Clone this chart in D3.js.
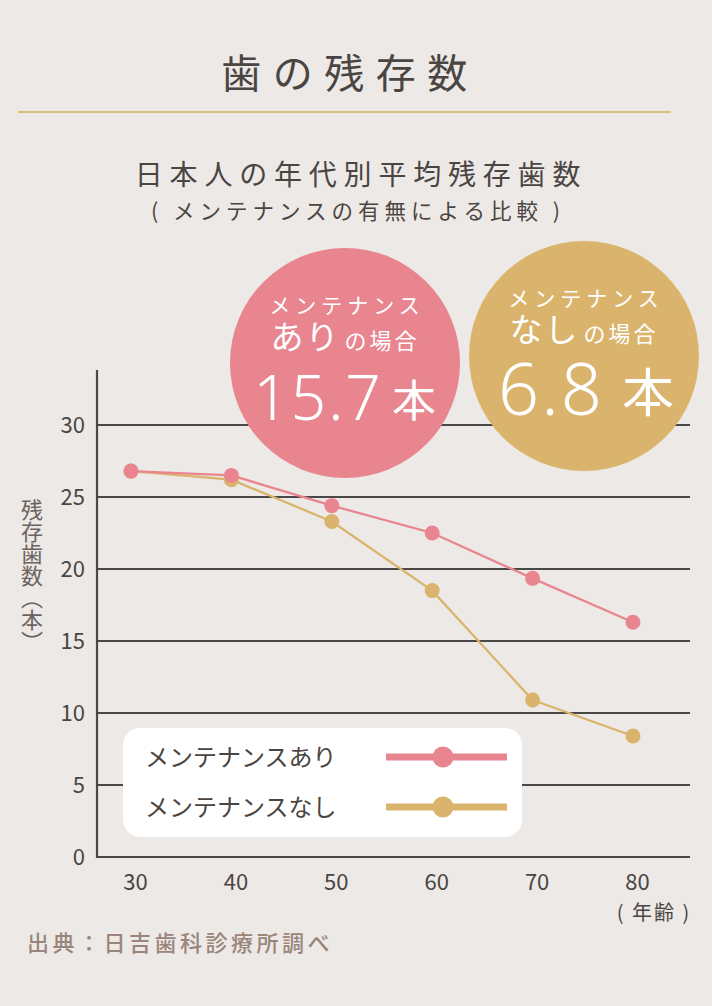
<!DOCTYPE html>
<html><head><meta charset="utf-8">
<script src="https://cdn.jsdelivr.net/npm/d3@7"></script>
<style>
html,body{margin:0;padding:0;background:#EDE9E6;}
svg{display:block;font-family:"Noto Sans CJK JP","Noto Sans",sans-serif;}
</style></head><body>
<svg id="c" width="712" height="1006"></svg>
<script>
const ages = [30, 40, 50, 60, 70, 80];
const withMaint = [26.8, 26.5, 24.4, 22.5, 19.35, 16.3];
const withoutMaint = [26.8, 26.2, 23.3, 18.5, 10.9, 8.4];
const yTicks = [0, 5, 10, 15, 20, 25, 30];
const seriesNames = ["メンテナンスあり", "メンテナンスなし"];
const colors = ["#E8858F", "#DAB46C"];

const svg = d3.select("#c");
const ink = "#4A4542";
svg.append("rect").attr("width",712).attr("height",1006).attr("fill","#EDE9E6");

// title
svg.append("text").attr("x",350).attr("y",88).attr("text-anchor","middle")
  .attr("font-size",40).attr("letter-spacing",11.5).attr("fill",ink).text("歯の残存数");
svg.append("line").attr("x1",18).attr("x2",671).attr("y1",112).attr("y2",112)
  .attr("stroke","#DCBE7C").attr("stroke-width",2);
svg.append("text").attr("x",361).attr("y",185).attr("text-anchor","middle")
  .attr("font-size",28).attr("letter-spacing",6.8).attr("fill",ink).text("日本人の年代別平均残存歯数");
svg.append("text").attr("x",358).attr("y",219).attr("text-anchor","middle")
  .attr("font-size",21.5).attr("letter-spacing",5).attr("fill",ink).text("( メンテナンスの有無による比較 )");

const x = d3.scaleLinear().domain([30,80]).range([131,633]);
const y = d3.scaleLinear().domain([0,30]).range([857,425]);

// gridlines
const g = svg.append("g");
g.selectAll("line.grid").data(yTicks).join("line")
  .attr("x1",97).attr("x2",690).attr("y1",d=>y(d)).attr("y2",d=>y(d))
  .attr("stroke","#4A4846").attr("stroke-width",2.2);
g.append("line").attr("x1",97).attr("x2",97).attr("y1",370).attr("y2",858)
  .attr("stroke","#4A4846").attr("stroke-width",2.2);

// y axis labels
const ya = svg.append("g").attr("transform","translate(97,0)")
  .call(d3.axisLeft(y).tickValues(yTicks).tickSize(0).tickPadding(12).tickFormat(d3.format("d")));
ya.select(".domain").remove();
ya.selectAll("text").attr("font-size",22).attr("fill",ink)
  .attr("font-family","'Noto Sans CJK JP','Noto Sans',sans-serif");

// x axis labels
const xa = svg.append("g").attr("transform","translate(4,857)")
  .call(d3.axisBottom(x).tickValues(ages).tickSize(0).tickPadding(17).tickFormat(d3.format("d")));
xa.select(".domain").remove();
xa.selectAll("text").attr("font-size",22).attr("fill",ink)
  .attr("font-family","'Noto Sans CJK JP','Noto Sans',sans-serif");
svg.append("text").attr("x",654).attr("y",920).attr("text-anchor","middle")
  .attr("font-size",20).attr("fill",ink).attr("letter-spacing",2).text("( 年齢 )");

// y axis title (vertical)
svg.append("text").attr("x",32).attr("y",499)
  .attr("style","writing-mode: vertical-rl; text-orientation: upright;")
  .attr("font-size",22).attr("fill","#6A6360").text("残存歯数（本）");

// circles
const bubbles = [
  {cx:345, cy:363, col:colors[0], big:"あり", num:"15.7", nsize:62, hsize:44, numX:318, honX:414},
  {cx:584, cy:356, col:colors[1], big:"なし", num:"6.8", nsize:72, hsize:52, numX:551, honX:648}
];
bubbles.forEach((b,i)=>{
  svg.append("circle").attr("cx",b.cx).attr("cy",b.cy).attr("r",115).attr("fill",b.col);
  svg.append("text").attr("x",b.cx+2).attr("y",b.cy-50).attr("text-anchor","middle")
    .attr("font-size",21).attr("letter-spacing",5).attr("fill","#fff").text("メンテナンス");
  const t2 = svg.append("text").attr("x",b.cx).attr("y",b.cy-14).attr("text-anchor","middle").attr("fill","#fff");
  t2.append("tspan").attr("font-size",33).attr("letter-spacing",2).text(b.big);
  t2.append("tspan").attr("font-size",22).attr("letter-spacing",3).attr("dx",4).text("の場合");
  svg.append("text").attr("x",b.numX).attr("y",b.cy+57+(i?2:0)).attr("text-anchor","middle")
    .attr("font-size",b.nsize).attr("font-weight",300).attr("font-family","'Noto Sans',sans-serif")
    .attr("letter-spacing",2).attr("fill","#fff").text(b.num);
  svg.append("text").attr("x",b.honX).attr("y",b.cy+54+(i?2:0)).attr("text-anchor","middle")
    .attr("font-size",b.hsize).attr("fill","#fff").text("本");
});

// series lines
const line = d3.line().x((d,i)=>x(ages[i])).y(d=>y(d));
[[withoutMaint,colors[1]],[withMaint,colors[0]]].forEach(([vals,col])=>{
  svg.append("path").datum(vals).attr("d",line).attr("fill","none")
    .attr("stroke",col).attr("stroke-width",2.3);
  svg.selectAll(null).data(vals).join("circle")
    .attr("cx",(d,i)=>x(ages[i])).attr("cy",d=>y(d)).attr("r",7.5).attr("fill",col);
});

// legend
svg.append("rect").attr("x",123).attr("y",728).attr("width",399).attr("height",109)
  .attr("rx",17).attr("fill","#fff");
seriesNames.forEach((n,i)=>{
  const ly = 757 + i*50;
  svg.append("text").attr("x",145).attr("y",ly+9).attr("font-size",24).attr("fill",ink).text(n);
  svg.append("line").attr("x1",386).attr("x2",507).attr("y1",ly).attr("y2",ly)
    .attr("stroke",colors[i]).attr("stroke-width",7);
  svg.append("circle").attr("cx",443).attr("cy",ly).attr("r",10.5).attr("fill",colors[i]);
});

// source
svg.append("text").attr("x",27).attr("y",951).attr("font-size",22).attr("font-weight",500)
  .attr("letter-spacing",3.5).attr("fill","#9A857A").text("出典：日吉歯科診療所調べ");
</script>
</body></html>
